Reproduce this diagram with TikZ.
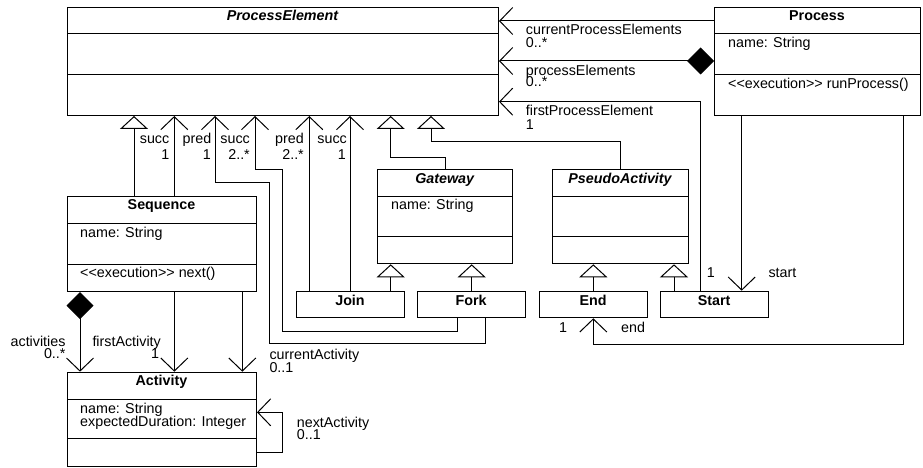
\documentclass[tikz,border=0pt]{standalone}
\usepackage{fontspec}
\newfontfamily\umlfont{Liberation Sans}
\usetikzlibrary{arrows.meta}
\begin{document}
\begin{tikzpicture}[x=1pt,y=-1pt,
  ln/.style={line width=1pt, draw=black},
  cls/.style={draw=black, line width=1pt, inner sep=0pt, anchor=north west, fill=white},
  div/.style={line width=1pt},
  gen/.style={ln, -{Triangle[open, length=13pt, width=28pt, fill=white]}},
  assoc/.style={ln, -{Straight Barb[length=13pt, width=27pt]}},
  comp/.style={ln, {Diamond[length=27pt, width=27pt]}-{Straight Barb[length=13pt, width=27pt]}},
  every node/.style={font=\umlfont\fontsize{14.3}{13}\selectfont},
  title/.style={inner sep=0pt, anchor=base, font=\umlfont\fontsize{14.3}{13}\selectfont\bfseries},
  atitle/.style={inner sep=0pt, anchor=base, font=\umlfont\fontsize{14.3}{13}\selectfont\bfseries\itshape},
  txt/.style={inner sep=0pt, anchor=base west},
  txtr/.style={inner sep=0pt, anchor=base east}]
\useasboundingbox (0,0) rectangle (923,468);

% ---------- classes ----------
\node[cls, minimum width=431pt, minimum height=108pt] (pe) at (67,7) {};
\draw[div] (pe.west |- 0,34) -- (pe.east |- 0,34);
\draw[div] (pe.west |- 0,75) -- (pe.east |- 0,75);
\node[atitle] (peT) at (282.5,21) {ProcessElement};

\node[cls, minimum width=206pt, minimum height=108pt] (proc) at (714,7) {};
\draw[div] (proc.west |- 0,34) -- (proc.east |- 0,34);
\draw[div] (proc.west |- 0,75) -- (proc.east |- 0,75);
\node[title] (procT) at (817,21) {Process};
\node[txt] (procA) at (728,48) {name: String};
\node[txt] (procO) at (728,89) {<<execution>> runProcess()};

\node[cls, minimum width=189pt, minimum height=95pt] (seq) at (67,196) {};
\draw[div] (seq.west |- 0,223.3) -- (seq.east |- 0,223.3);
\draw[div] (seq.west |- 0,264) -- (seq.east |- 0,264);
\node[title] (seqT) at (161.5,209.7) {Sequence};
\node[txt] (seqA) at (80,237.3) {name: String};
\node[txt] (seqO) at (80,277.5) {<<execution>> next()};

\node[cls, minimum width=135.3pt, minimum height=94pt] (gw) at (377,169.3) {};
\draw[div] (gw.west |- 0,196.7) -- (gw.east |- 0,196.7);
\draw[div] (gw.west |- 0,236.7) -- (gw.east |- 0,236.7);
\node[atitle] (gwT) at (444.7,183) {Gateway};
\node[txt] (gwA) at (391,209.8) {name: String};

\node[cls, minimum width=135.4pt, minimum height=94pt] (pa) at (552.3,169.3) {};
\draw[div] (pa.west |- 0,196.5) -- (pa.east |- 0,196.5);
\draw[div] (pa.west |- 0,236.7) -- (pa.east |- 0,236.7);
\node[atitle] (paT) at (620,183) {PseudoActivity};

\node[cls, minimum width=108pt, minimum height=26.6pt] (join) at (296,290.7) {};
\node[title] (joinT) at (350,305) {Join};
\node[cls, minimum width=107.7pt, minimum height=26.6pt] (fork) at (417.3,290.7) {};
\node[title] (forkT) at (471.2,305) {Fork};
\node[cls, minimum width=108.3pt, minimum height=26.6pt] (endn) at (539,290.7) {};
\node[title] (endT) at (593.2,305) {End};
\node[cls, minimum width=108.3pt, minimum height=26.6pt] (start) at (660,290.7) {};
\node[title] (startT) at (714.2,305) {Start};

\node[cls, minimum width=189pt, minimum height=94.3pt] (act) at (67,371.7) {};
\draw[div] (act.west |- 0,399) -- (act.east |- 0,399);
\draw[div] (act.west |- 0,438.3) -- (act.east |- 0,438.3);
\node[title] (actT) at (161.5,385.4) {Activity};
\node[txt] (actA) at (80,413.5) {name: String};
\node[txt] (actB) at (80,426) {expectedDuration: Integer};

% ---------- Process associations ----------
\draw[assoc] (proc.west |- 0,21) -- (pe.east |- 0,21);
\node[txt] at (525.7,35) {currentProcessElements};
\node[txt] at (525.7,48) {0..*};
\draw[comp] (proc.west |- 0,61) -- (pe.east |- 0,61);
\node[txt] at (525.7,75.5) {processElements};
\node[txt] at (525.7,86.5) {0..*};
\draw[assoc] (start.north -| 700,0) -- (700,101.7) -- (pe.east |- 0,101.7);
\node[txt] at (525.7,115.5) {firstProcessElement};
\node[txt] at (525.7,129) {1};
\node[txt] at (706.7,277.5) {1};
\draw[assoc] (proc.south -| 741.7,0) -- (start.north -| 741.7,0);
\node[txt] at (768.3,277.5) {start};
\draw[assoc] (proc.south -| 903.3,0) -- (903.3,344) -- (593.3,344) -- (endn.south -| 593.3,0);
\node[txt] at (559,332) {1};
\node[txt] at (621,332) {end};

% ---------- generalizations ----------
\draw[gen] (seq.north -| 134,0) -- (pe.south -| 134,0);
\draw[gen] (gw.north -| 445,0) -- (445,157) -- (390.7,157) -- (pe.south -| 390.7,0);
\draw[gen] (pa.north -| 620,0) -- (620,141.7) -- (431,141.7) -- (pe.south -| 431,0);
\draw[gen] (join.north -| 390.7,0) -- (gw.south -| 390.7,0);
\draw[gen] (fork.north -| 471.7,0) -- (gw.south -| 471.7,0);
\draw[gen] (endn.north -| 593.3,0) -- (pa.south -| 593.3,0);
\draw[gen] (start.north -| 674,0) -- (pa.south -| 674,0);

% ---------- successor / predecessor ----------
\draw[assoc] (seq.north -| 174.3,0) -- (pe.south -| 174.3,0);
\node[txtr] at (169.5,143) {succ};
\node[txtr] at (169.5,159) {1};
\draw[assoc] (fork.south -| 485,0) -- (485,343.3) -- (269.3,343.3) -- (269.3,182.7) -- (215,182.7) -- (pe.south -| 215,0);
\node[txtr] at (211.5,143) {pred};
\node[txtr] at (211,159) {1};
\draw[assoc] (fork.south -| 457.7,0) -- (457.7,331) -- (282.7,331) -- (282.7,169) -- (255,169) -- (pe.south -| 255,0);
\node[txtr] at (250,143) {succ};
\node[txtr] at (250,159) {2..*};
\draw[assoc] (join.north -| 309.3,0) -- (pe.south -| 309.3,0);
\node[txtr] at (304,143) {pred};
\node[txtr] at (304,159) {2..*};
\draw[assoc] (join.north -| 350,0) -- (pe.south -| 350,0);
\node[txtr] at (347,143) {succ};
\node[txtr] at (346,159) {1};

% ---------- Sequence -> Activity ----------
\draw[comp] (seq.south -| 80,0) -- (act.north -| 80,0);
\node[txtr] at (65.7,346) {activities};
\node[txtr] at (65.7,358) {0..*};
\draw[assoc] (seq.south -| 174.3,0) -- (act.north -| 174.3,0);
\node[txt] at (92.3,346) {firstActivity};
\node[txtr] at (159.3,358) {1};
\draw[assoc] (seq.south -| 242.3,0) -- (act.north -| 242.3,0);
\node[txt] at (269.3,359.5) {currentActivity};
\node[txt] at (269.3,372.5) {0..1};
\draw[assoc] (act.east |- 0,452.3) -- (282.7,452.3) -- (282.7,412.3) -- (act.east |- 0,412.3);
\node[txt] at (296.7,427) {nextActivity};
\node[txt] at (296.7,439) {0..1};
\end{tikzpicture}
\end{document}
